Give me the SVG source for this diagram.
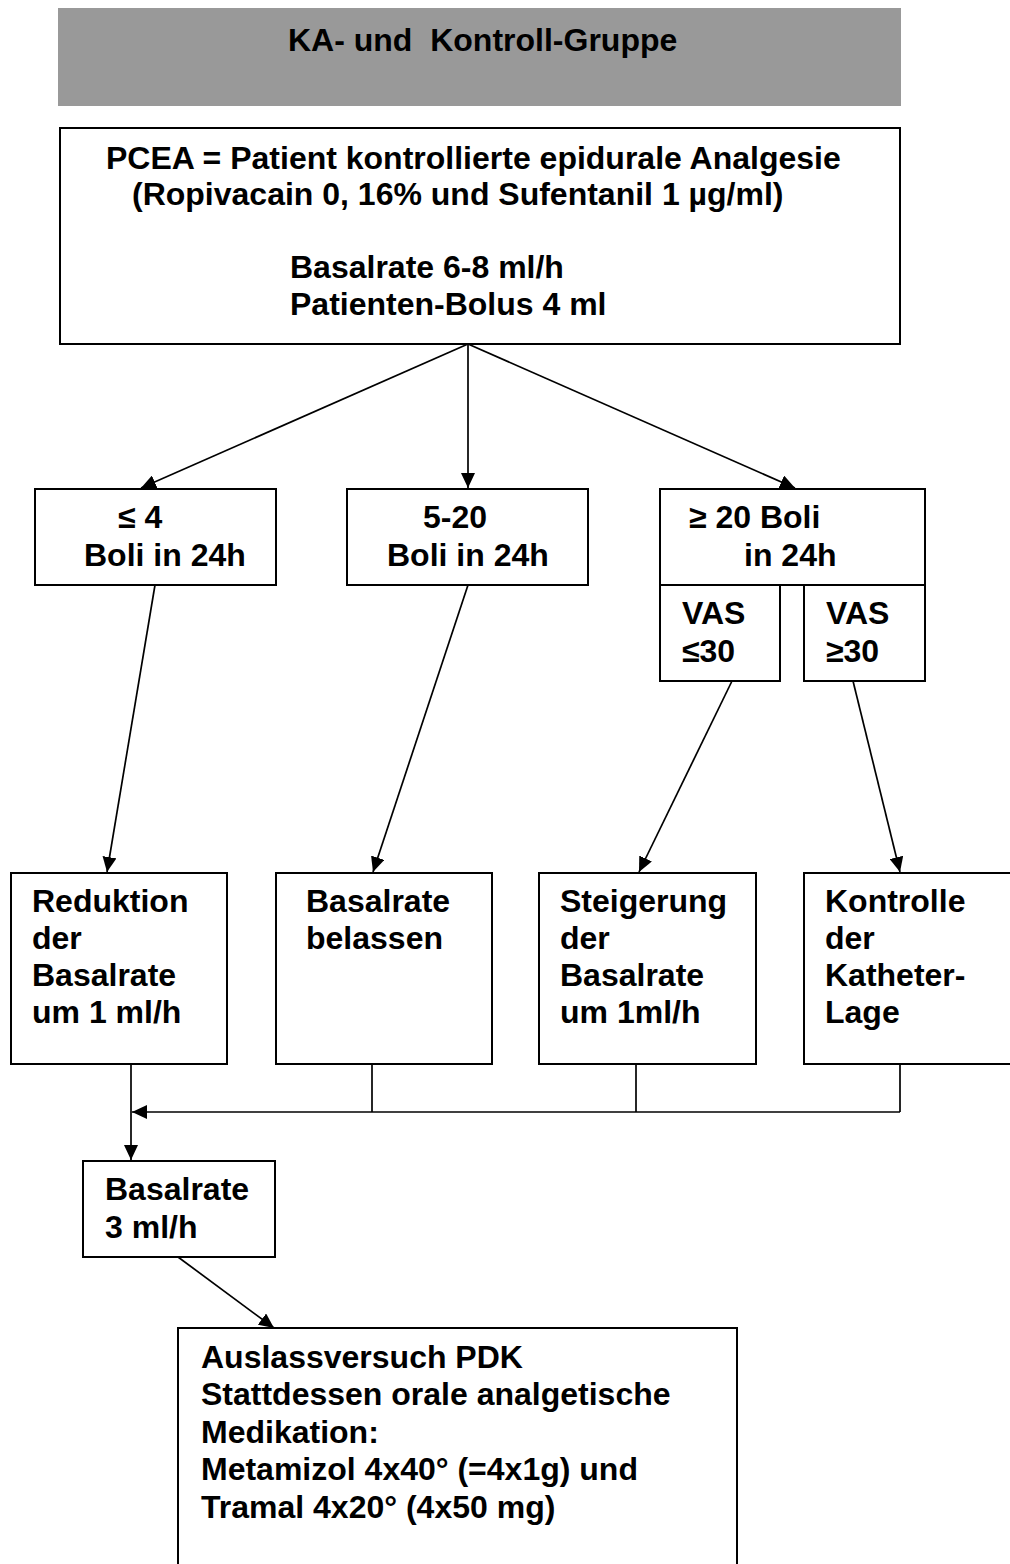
<svg xmlns="http://www.w3.org/2000/svg" width="1010" height="1564" viewBox="0 0 1010 1564">
<style>
  .t { font-family: "Liberation Sans", Arial, sans-serif; font-weight: bold; font-size: 32px; fill: #000; white-space: pre; }
  .box { fill: #fff; stroke: #000; stroke-width: 2; }
  .con { fill: none; stroke: #000; stroke-width: 1.7; }
</style>
<defs>
  <marker id="arr" markerUnits="userSpaceOnUse" markerWidth="16" markerHeight="14" refX="15" refY="7" orient="auto">
    <path d="M0,0 L15,7 L0,14 z" fill="#000"/>
  </marker>
</defs>
<rect width="1010" height="1564" fill="#fff"/>

<g id="header">
  <rect x="58" y="8" width="843" height="98" fill="#999999"/>
  <text class="t" x="288" y="51" xml:space="preserve">KA- und  Kontroll-Gruppe</text>
</g>

<g id="pcea">
  <rect class="box" x="60" y="128" width="840" height="216"/>
  <text class="t" x="106" y="169">PCEA = Patient kontrollierte epidurale Analgesie</text>
  <text class="t" x="132" y="205">(Ropivacain 0, 16% und Sufentanil 1 µg/ml)</text>
  <text class="t" x="290" y="278">Basalrate 6-8 ml/h</text>
  <text class="t" x="290" y="315">Patienten-Bolus 4 ml</text>
</g>

<g id="b1">
  <rect class="box" x="35" y="489" width="241" height="96"/>
  <text class="t" x="118" y="528">≤ 4</text>
  <text class="t" x="84" y="566">Boli in 24h</text>
</g>
<g id="b2">
  <rect class="box" x="347" y="489" width="241" height="96"/>
  <text class="t" x="423" y="528">5-20</text>
  <text class="t" x="387" y="566">Boli in 24h</text>
</g>
<g id="b3">
  <rect class="box" x="660" y="489" width="265" height="96"/>
  <text class="t" x="689" y="528">≥ 20 Boli</text>
  <text class="t" x="744" y="566">in 24h</text>
</g>
<g id="vas1">
  <rect class="box" x="660" y="585" width="120" height="96"/>
  <text class="t" x="682" y="624">VAS</text>
  <text class="t" x="682" y="662">≤30</text>
</g>
<g id="vas2">
  <rect class="box" x="804" y="585" width="121" height="96"/>
  <text class="t" x="826" y="624">VAS</text>
  <text class="t" x="826" y="662">≥30</text>
</g>

<g id="r1">
  <rect class="box" x="11" y="873" width="216" height="191"/>
  <text class="t" x="32" y="912">Reduktion</text>
  <text class="t" x="32" y="949">der</text>
  <text class="t" x="32" y="986">Basalrate</text>
  <text class="t" x="32" y="1023">um 1 ml/h</text>
</g>
<g id="r2">
  <rect class="box" x="276" y="873" width="216" height="191"/>
  <text class="t" x="306" y="912">Basalrate</text>
  <text class="t" x="306" y="949">belassen</text>
</g>
<g id="r3">
  <rect class="box" x="539" y="873" width="217" height="191"/>
  <text class="t" x="560" y="912">Steigerung</text>
  <text class="t" x="560" y="949">der</text>
  <text class="t" x="560" y="986">Basalrate</text>
  <text class="t" x="560" y="1023">um 1ml/h</text>
</g>
<g id="r4">
  <rect class="box" x="804" y="873" width="220" height="191"/>
  <text class="t" x="825" y="912">Kontrolle</text>
  <text class="t" x="825" y="949">der</text>
  <text class="t" x="825" y="986">Katheter-</text>
  <text class="t" x="825" y="1023">Lage</text>
</g>

<g id="b3ml">
  <rect class="box" x="83" y="1161" width="192" height="96"/>
  <text class="t" x="105" y="1200">Basalrate</text>
  <text class="t" x="105" y="1238">3 ml/h</text>
</g>

<g id="final">
  <rect class="box" x="178" y="1328" width="559" height="260"/>
  <text class="t" x="201" y="1368">Auslassversuch PDK</text>
  <text class="t" x="201" y="1405">Stattdessen orale analgetische</text>
  <text class="t" x="201" y="1443">Medikation:</text>
  <text class="t" x="201" y="1480">Metamizol 4x40° (=4x1g) und</text>
  <text class="t" x="201" y="1518">Tramal 4x20° (4x50 mg)</text>
</g>

<g id="connectors">
  <line class="con" x1="468" y1="344" x2="141" y2="488" marker-end="url(#arr)"/>
  <line class="con" x1="468" y1="344" x2="468" y2="488" marker-end="url(#arr)"/>
  <line class="con" x1="468" y1="344" x2="795" y2="488" marker-end="url(#arr)"/>
  <line class="con" x1="155" y1="585" x2="107" y2="872" marker-end="url(#arr)"/>
  <line class="con" x1="468" y1="585" x2="373" y2="872" marker-end="url(#arr)"/>
  <line class="con" x1="732" y1="681" x2="639" y2="872" marker-end="url(#arr)"/>
  <line class="con" x1="853" y1="681" x2="900" y2="872" marker-end="url(#arr)"/>
  <line class="con" x1="131" y1="1064" x2="131" y2="1160" marker-end="url(#arr)"/>
  <line class="con" x1="372" y1="1064" x2="372" y2="1112"/>
  <line class="con" x1="636" y1="1064" x2="636" y2="1112"/>
  <line class="con" x1="900" y1="1064" x2="900" y2="1112"/>
  <line class="con" x1="900" y1="1112" x2="132" y2="1112" stroke-width="2.2" marker-end="url(#arr)"/>
  <line class="con" x1="178" y1="1257" x2="274" y2="1328" marker-end="url(#arr)"/>
</g>
</svg>
